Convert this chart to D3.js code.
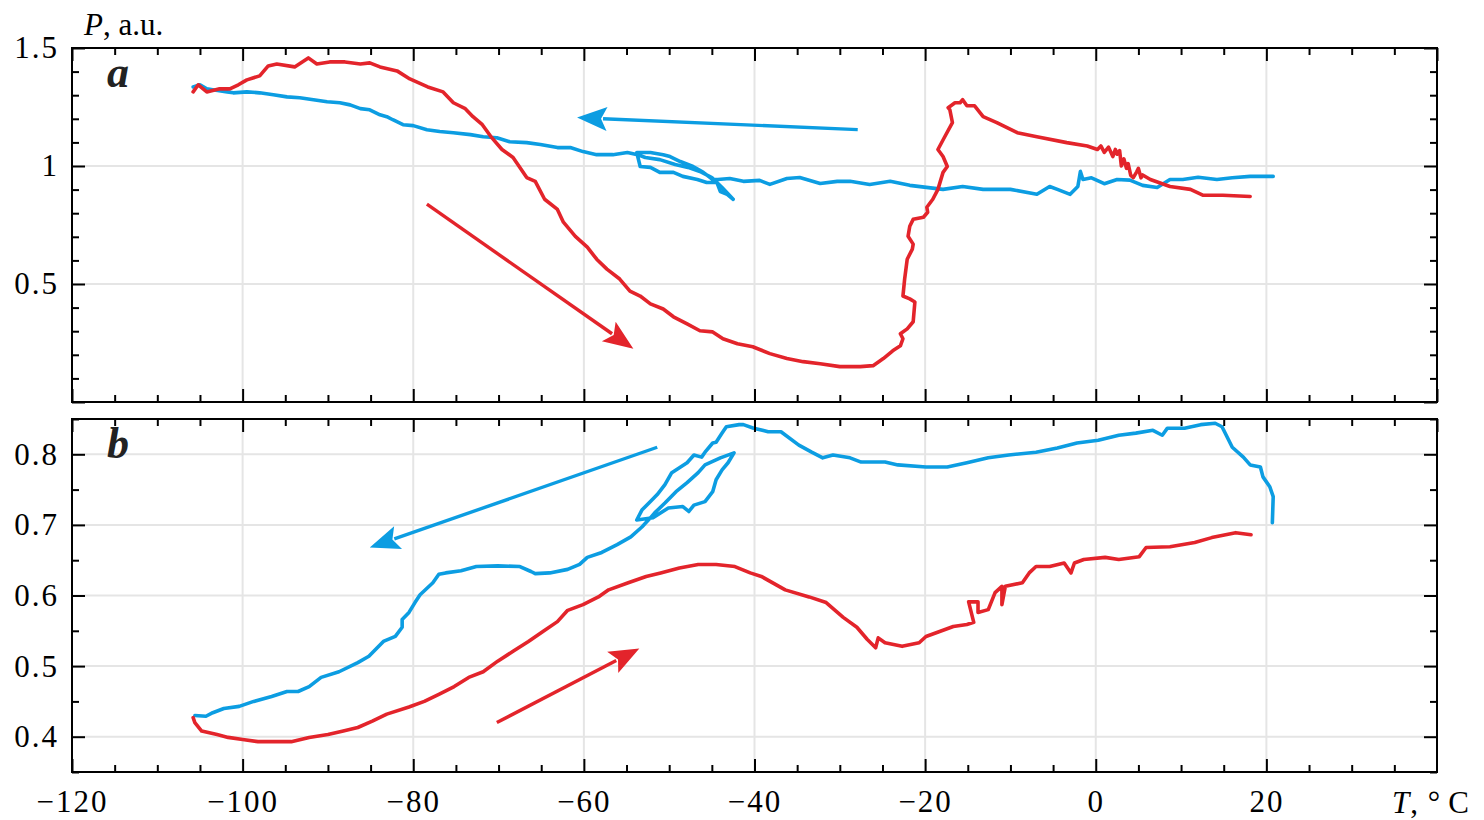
<!DOCTYPE html>
<meta charset="utf-8">
<body style="margin:0;background:#fff">
<svg id="chart" width="1484" height="820"></svg>
<script src="https://d3js.org/d3.v7.min.js"></script>
<script>

// panel a, heating (red), [T, P]
var heatA = [
  [-105.8,1.314],[-105.2,1.344],[-104.2,1.314],[-102.7,1.327],[-101.5,1.327],[-100.5,1.344],
  [-99.5,1.365],[-98.0,1.382],[-97.0,1.424],[-96.0,1.432],[-93.9,1.420],[-92.3,1.458],
  [-91.3,1.432],[-89.8,1.441],[-88.0,1.441],[-86.2,1.432],[-85.1,1.437],[-83.9,1.420],
  [-81.9,1.403],[-80.4,1.369],[-78.3,1.335],[-76.5,1.314],[-75.3,1.268],[-73.9,1.243],
  [-73.0,1.209],[-71.9,1.175],[-70.8,1.120],[-69.6,1.070],[-68.3,1.036],[-66.7,0.951],
  [-65.7,0.935],[-64.6,0.859],[-63.1,0.816],[-62.4,0.762],[-61.0,0.702],[-59.6,0.656],
  [-58.5,0.605],[-57.3,0.563],[-55.8,0.521],[-54.6,0.470],[-53.4,0.449],[-52.2,0.416],
  [-50.7,0.394],[-49.5,0.361],[-47.9,0.331],[-46.4,0.302],[-44.9,0.297],[-43.7,0.268],
  [-42.0,0.247],[-40.2,0.234],[-38.2,0.205],[-36.2,0.184],[-34.3,0.171],[-32.3,0.162],
  [-30.0,0.150],[-27.6,0.150],[-26.1,0.154],[-24.9,0.184],[-23.8,0.217],[-22.9,0.238],
  [-22.6,0.268],[-22.9,0.289],[-22.1,0.310],[-21.4,0.340],[-21.2,0.424],[-21.8,0.437],
  [-22.6,0.449],[-22.4,0.521],[-22.1,0.605],[-21.5,0.648],[-21.4,0.669],[-22.0,0.702],
  [-21.8,0.745],[-21.4,0.774],[-20.2,0.783],[-19.7,0.804],[-19.8,0.825],[-19.1,0.859],
  [-18.5,0.901],[-17.9,0.973],[-17.4,0.998],[-17.9,1.040],[-18.5,1.070],[-17.7,1.124],
  [-16.8,1.184],[-17.1,1.238],[-17.3,1.247],[-16.5,1.268],[-15.9,1.268],[-15.6,1.281],
  [-15.1,1.255],[-14.2,1.255],[-13.2,1.209],[-11.6,1.184],[-9.2,1.141],[-6.9,1.124],
  [-3.4,1.099],[-1.0,1.085],[0.2,1.070],[0.6,1.085],[1.0,1.058],[1.5,1.080],[2.0,1.040],
  [2.3,1.070],[2.5,1.050],[2.8,1.065],[3.0,1.000],[3.3,1.030],[3.6,0.990],[3.8,1.010],
  [4.1,0.960],[4.4,0.951],[4.8,0.975],[5.0,0.990],[5.3,0.950],[5.5,0.962],[6.4,0.943],
  [8.7,0.913],[11.1,0.901],[12.6,0.876],[14.9,0.876],[18.1,0.871]
];

// panel a, cooling (blue)
var coolA = [
  [20.8,0.956],[18.1,0.956],[16.0,0.950],[14.2,0.943],[12.0,0.952],[10.2,0.943],[8.7,0.943],
  [7.2,0.909],[5.5,0.918],[4.0,0.940],[2.5,0.943],[1.0,0.925],[-0.5,0.950],[-1.5,0.943],
  [-1.8,0.977],[-2.1,0.913],[-3.0,0.880],[-4.5,0.901],[-5.4,0.913],
  [-6.9,0.880],[-10.0,0.901],[-13.2,0.901],[-15.6,0.913],[-17.9,0.901],[-21.8,0.918],
  [-24.1,0.935],[-26.5,0.922],[-28.8,0.935],[-30.3,0.935],[-32.3,0.926],[-34.7,0.951],
  [-36.2,0.947],[-38.2,0.922],[-39.4,0.939],[-41.3,0.935],[-42.9,0.947],[-44.3,0.943],
  [-44.9,0.943],[-46.0,0.973],[-47.2,0.998],[-48.7,1.019],[-49.9,1.040],[-50.7,1.048],
  [-52.2,1.057],[-53.8,1.057],[-53.4,0.998],[-52.2,0.994],[-51.1,0.973],[-49.5,0.973],
  [-48.4,0.956],[-46.7,0.943],[-45.6,0.930],[-44.4,0.930],[-44.0,0.892],[-43.2,0.880],
  [-42.5,0.859],[-43.8,0.909],[-45.0,0.951],[-46.4,0.977],[-47.8,0.994],[-49.3,1.006],
  [-51.1,1.027],[-52.8,1.036],[-53.7,1.048],[-54.9,1.057],[-56.6,1.048],[-58.5,1.048],
  [-60.1,1.061],[-61.6,1.078],[-63.1,1.078],[-65.1,1.091],[-66.7,1.099],[-68.7,1.103],
  [-70.2,1.120],[-71.8,1.124],[-73.3,1.133],[-75.3,1.141],[-76.9,1.146],[-78.4,1.154],
  [-80.0,1.171],[-81.2,1.175],[-82.4,1.196],[-83.1,1.209],[-83.9,1.217],[-85.1,1.238],
  [-86.2,1.243],[-87.4,1.259],[-88.6,1.268],[-90.1,1.272],[-91.7,1.281],[-93.3,1.289],
  [-94.8,1.293],[-96.4,1.302],[-98.0,1.310],[-99.5,1.314],[-101.1,1.310],[-101.8,1.314],
  [-103.5,1.323],[-104.2,1.327],[-105.0,1.344],[-105.8,1.335]
];

// panel b, heating (red)
var heatB = [
  [-105.8,0.427],[-105.6,0.420],[-104.8,0.408],[-103.0,0.403],[-101.7,0.399],[-100.0,0.396],
  [-98.2,0.393],[-96.1,0.393],[-94.3,0.393],[-92.2,0.399],[-90.0,0.403],[-88.2,0.408],
  [-86.5,0.413],[-84.8,0.422],[-83.1,0.432],[-80.5,0.442],[-78.7,0.450],[-77.0,0.460],
  [-75.2,0.471],[-73.5,0.484],[-71.8,0.492],[-70.1,0.507],[-68.3,0.521],[-66.5,0.535],
  [-64.8,0.549],[-63.1,0.563],[-61.9,0.579],[-60.1,0.587],[-58.3,0.598],[-57.1,0.608],
  [-54.8,0.618],[-52.7,0.627],[-51.0,0.632],[-48.8,0.639],[-46.6,0.644],[-44.5,0.644],
  [-42.3,0.641],[-40.5,0.632],[-39.2,0.627],[-36.4,0.608],[-33.6,0.598],[-31.6,0.590],
  [-29.6,0.569],[-28.0,0.555],[-26.8,0.538],[-25.8,0.526],[-25.5,0.540],[-24.7,0.533],
  [-22.7,0.528],[-20.7,0.533],[-19.9,0.542],[-18.3,0.549],[-16.7,0.556],[-15.1,0.559],
  [-14.3,0.562],[-14.9,0.591],[-13.8,0.591],[-13.8,0.576],[-12.6,0.580],[-11.8,0.604],
  [-11.0,0.613],[-11.0,0.587],[-10.6,0.613],[-8.6,0.618],[-7.8,0.632],[-7.0,0.641],
  [-5.4,0.641],[-3.7,0.646],[-2.9,0.632],[-2.5,0.646],[-1.4,0.651],[1.1,0.654],[2.7,0.651],
  [5.1,0.655],[5.9,0.668],[8.7,0.669],[11.6,0.675],[13.6,0.682],[16.4,0.689],[18.2,0.686]
];

// panel b, cooling (blue)
var coolB = [
  [20.7,0.703],[20.8,0.740],[20.4,0.754],[19.6,0.768],[19.3,0.782],[18.1,0.785],[17.3,0.796],
  [16.0,0.810],[14.8,0.839],[14.0,0.844],[12.3,0.842],[10.4,0.837],[8.4,0.837],[7.8,0.827],
  [6.7,0.834],[4.7,0.830],[2.7,0.827],[0.3,0.820],[-2.2,0.816],[-4.5,0.809],[-7.0,0.803],
  [-10.2,0.799],[-12.6,0.795],[-15.1,0.788],[-17.4,0.782],[-19.9,0.782],[-23.2,0.785],
  [-24.7,0.789],[-27.5,0.789],[-28.8,0.795],[-30.8,0.799],[-32.0,0.795],[-33.3,0.803],
  [-34.8,0.813],[-36.9,0.832],[-38.4,0.832],[-40.1,0.837],[-41.3,0.842],[-41.8,0.842],
  [-43.3,0.839],[-43.8,0.830],[-44.5,0.817],[-44.9,0.816],[-45.8,0.803],[-46.2,0.796],
  [-47.1,0.799],[-47.9,0.788],[-49.7,0.774],[-50.5,0.757],[-51.4,0.743],[-52.2,0.733],
  [-53.2,0.721],[-53.8,0.707],[-51.9,0.710],[-50.1,0.724],[-48.4,0.726],[-47.7,0.719],
  [-47.1,0.728],[-45.8,0.733],[-44.9,0.747],[-44.5,0.764],[-43.8,0.778],[-43.1,0.788],
  [-42.4,0.802],[-44.0,0.795],[-45.8,0.785],[-46.6,0.774],[-47.9,0.760],[-49.2,0.747],
  [-50.5,0.731],[-51.7,0.717],[-52.2,0.710],[-53.2,0.697],[-54.5,0.683],[-56.1,0.672],
  [-57.9,0.661],[-59.6,0.654],[-60.5,0.644],[-61.9,0.637],[-64.0,0.632],[-65.7,0.631],
  [-66.2,0.634],[-67.5,0.641],[-70.1,0.642],[-72.6,0.641],[-74.4,0.635],[-76.2,0.632],
  [-77.0,0.630],[-77.7,0.618],[-79.2,0.601],[-79.8,0.590],[-80.5,0.576],[-81.3,0.566],
  [-81.3,0.555],[-82.1,0.542],[-83.5,0.535],[-85.2,0.514],[-86.5,0.505],[-88.7,0.492],
  [-90.8,0.484],[-92.2,0.471],[-93.5,0.464],[-94.8,0.464],[-96.6,0.457],[-98.7,0.450],
  [-100.4,0.443],[-102.2,0.440],[-103.5,0.434],[-104.3,0.429],[-105.6,0.430]
];

// direction arrows: [from, to] in data units
var arrowsA = [
  {kind:"cool", from:[-27.9,1.154], to:[-60.8,1.205]},
  {kind:"heat", from:[-78.4,0.838], to:[-54.2,0.226]}
];
var arrowsB = [
  {kind:"cool", from:[-51.4,0.810], to:[-85.1,0.668]},
  {kind:"heat", from:[-70.2,0.420], to:[-53.5,0.525]}
];

var xMajor = [-120,-100,-80,-60,-40,-20,0,20,40];
var xLabels = [-120,-100,-80,-60,-40,-20,0,20];
var yMajorA = [0,0.5,1,1.5];
var yLabelsA = [0.5,1,1.5];
var yMajorB = [0.4,0.5,0.6,0.7,0.8];

var col = {cool:"#0c9de2", heat:"#e3242b"};
var serif = "'Liberation Serif', 'Times New Roman', serif";

var svg = d3.select("#chart");
var x = d3.scaleLinear().domain([-120,40]).range([72,1437]);
var yA = d3.scaleLinear().domain([0,1.5]).range([402,48]);
var yB = d3.scaleLinear().domain([0.35,0.85]).range([772,419]);

function panel(y, yMajor, yMinorStep, yLabels, fmt, series, arrows, name, showX) {
  var y0 = y.range()[0], y1 = y.range()[1];
  var x0 = x.range()[0], x1 = x.range()[1];
  var g = svg.append("g");

  // grid
  g.selectAll(".vg").data(xMajor.filter(function(v){ return v > -120 && v < 40; }))
    .join("line").attr("x1", d => x(d)).attr("x2", d => x(d))
    .attr("y1", y0).attr("y2", y1).attr("stroke", "#e5e5e5").attr("stroke-width", 2);
  g.selectAll(".hg").data(yMajor.filter(function(v){ return y(v) < y0 - 1 && y(v) > y1 + 1; }))
    .join("line").attr("x1", x0).attr("x2", x1)
    .attr("y1", d => y(d)).attr("y2", d => y(d)).attr("stroke", "#e5e5e5").attr("stroke-width", 2);

  var line = d3.line().x(d => x(d[0])).y(d => y(d[1]));
  series.forEach(function(s) {
    g.append("path").datum(s.data).attr("d", line)
      .attr("fill", "none").attr("stroke", col[s.kind]).attr("stroke-width", 3.6)
      .attr("stroke-linejoin", "round").attr("stroke-linecap", "round");
  });

  arrows.forEach(function(a) {
    var ax = x(a.from[0]), ay = y(a.from[1]), bx = x(a.to[0]), by = y(a.to[1]);
    var dx = bx - ax, dy = by - ay, L = Math.sqrt(dx*dx + dy*dy);
    var ux = dx / L, uy = dy / L, hl = 30, hw = 12;
    var cx = bx - ux * hl, cy = by - uy * hl;
    g.append("line").attr("x1", ax).attr("y1", ay).attr("x2", cx + ux * 4).attr("y2", cy + uy * 4)
      .attr("stroke", col[a.kind]).attr("stroke-width", 3.4);
    g.append("path").attr("d", "M" + bx + "," + by +
      "L" + (cx - uy * hw) + "," + (cy + ux * hw) +
      "L" + (cx + ux * 6) + "," + (cy + uy * 6) +
      "L" + (cx + uy * hw) + "," + (cy - ux * hw) + "Z")
      .attr("fill", col[a.kind]);
  });

  // ticks, all inward
  var xMinor = d3.range(-115, 40, 5).filter(function(v){ return v % 20 !== 0; });
  var yMinor = d3.range(y.domain()[0], y.domain()[1] + 1e-9, yMinorStep)
    .map(function(v){ return +v.toFixed(3); })
    .filter(function(v){ return !yMajor.some(function(m){ return Math.abs(m - v) < 1e-6; }); });

  function put(axis, tx, ty) {
    var a = g.append("g").attr("transform", "translate(" + tx + "," + ty + ")").call(axis);
    a.select(".domain").remove();
    a.selectAll("line").attr("stroke", "#000").attr("stroke-width", 2);
    a.attr("font-family", serif).attr("font-size", 31).attr("fill", "#000");
    a.selectAll("text").attr("fill", "#000").attr("letter-spacing", 2);
    return a;
  }
  put(d3.axisBottom(x).tickValues(xMinor).tickSize(-7).tickFormat(""), 0, y0);
  put(d3.axisTop(x).tickValues(xMinor).tickSize(-7).tickFormat(""), 0, y1);
  put(d3.axisTop(x).tickValues(xMajor).tickSize(-13).tickFormat(""), 0, y1);
  if (showX) {
    put(d3.axisBottom(x).tickValues(xLabels).tickSize(-13).tickPadding(18).tickFormat(d3.format("")), 0, y0);
  } else {
    put(d3.axisBottom(x).tickValues(xMajor).tickSize(-13).tickFormat(""), 0, y0);
  }
  put(d3.axisLeft(y).tickValues(yMinor).tickSize(-7).tickFormat(""), x0, 0);
  put(d3.axisRight(y).tickValues(yMinor).tickSize(-7).tickFormat(""), x1, 0);
  put(d3.axisRight(y).tickValues(yMajor).tickSize(-13).tickFormat(""), x1, 0);
  put(d3.axisLeft(y).tickValues(yMajor).tickSize(-13).tickFormat(""), x0, 0);
  put(d3.axisLeft(y).tickValues(yLabels).tickSize(0).tickPadding(13).tickFormat(fmt), x0, 0);

  g.append("rect").attr("x", x0).attr("y", y1).attr("width", x1 - x0).attr("height", y0 - y1)
    .attr("fill", "none").attr("stroke", "#000").attr("stroke-width", 2);

  g.append("text").attr("x", 107).attr("y", y1 + 39).text(name)
    .attr("font-family", serif).attr("font-size", 44).attr("font-weight", "bold")
    .attr("font-style", "italic").attr("fill", "#222");
}

panel(yA, yMajorA, 0.1, yLabelsA, d3.format(""),
  [{kind:"cool", data:coolA}, {kind:"heat", data:heatA}], arrowsA, "a", false);
panel(yB, yMajorB, 0.05, yMajorB, d3.format(".1f"),
  [{kind:"cool", data:coolB}, {kind:"heat", data:heatB}], arrowsB, "b", true);

var yt = svg.append("text").attr("x", 84).attr("y", 35)
  .attr("font-family", serif).attr("font-size", 31).attr("fill", "#000");
yt.append("tspan").attr("font-style", "italic").text("P");
yt.append("tspan").text(", a.u.");

var xt = svg.append("text").attr("x", 1392).attr("y", 813)
  .attr("font-family", serif).attr("font-size", 31).attr("fill", "#000").attr("letter-spacing", 1);
xt.append("tspan").attr("font-style", "italic").text("T");
xt.append("tspan").text(", °\u2009C");

</script>
</body>
